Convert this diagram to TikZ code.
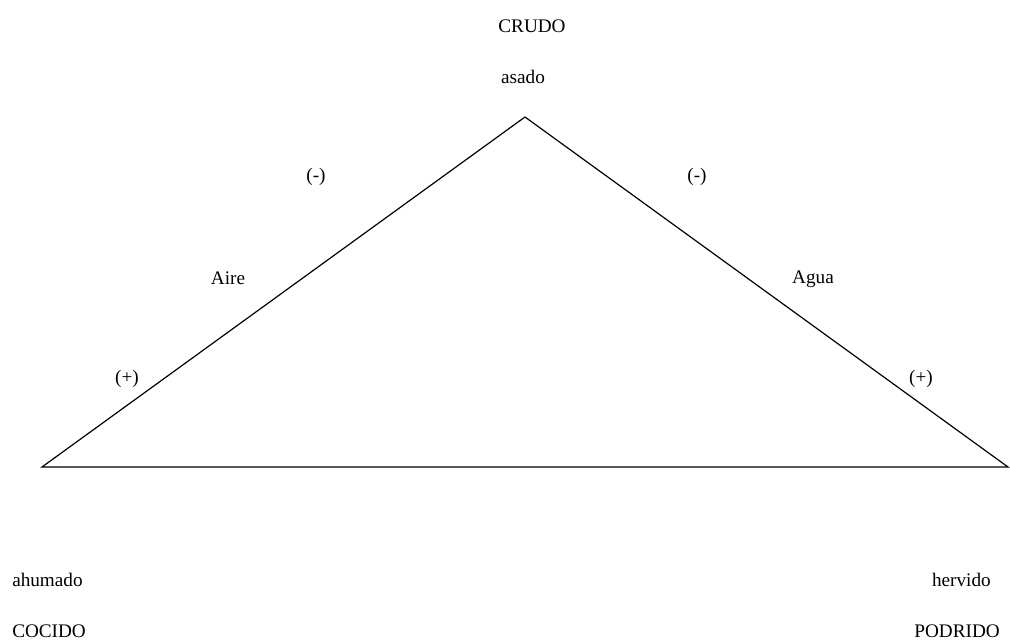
\documentclass[tikz,border=0pt]{standalone}
\usepackage{fontspec}
\setmainfont{Liberation Serif}
\begin{document}
\begin{tikzpicture}[x=0.75pt,y=-0.75pt,
  lbl/.style={inner sep=0pt,font=\fontsize{14.4}{17}\selectfont},
  edge/.style={draw=black,line width=0.9pt}]
\useasboundingbox (0,0) rectangle (1010,641);
\coordinate (apex) at (525,117);
\coordinate (L) at (42,467);
\coordinate (R) at (1008,467);
\draw[edge] (L) -- (apex) -- (R) -- cycle;
\node[lbl] (crudo) at (532,26) {CRUDO};
\node[lbl] (asado) at (523,77) {asado};
\node[lbl] (ml) at (316,177) {(-)};
\node[lbl] (mr) at (697,177) {(-)};
\node[lbl] (aire) at (228,278) {Aire};
\node[lbl] (agua) at (813,279) {Agua};
\node[lbl] (pl) at (127,379) {(+)};
\node[lbl] (pr) at (921,379) {(+)};
\node[lbl,anchor=west] (ahu) at (12,580) {ahumado};
\node[lbl,anchor=west] (coc) at (12,631) {COCIDO};
\node[lbl,anchor=east] (her) at (991,580) {hervido};
\node[lbl,anchor=east] (pod) at (1000,631) {PODRIDO};
\end{tikzpicture}
\end{document}
